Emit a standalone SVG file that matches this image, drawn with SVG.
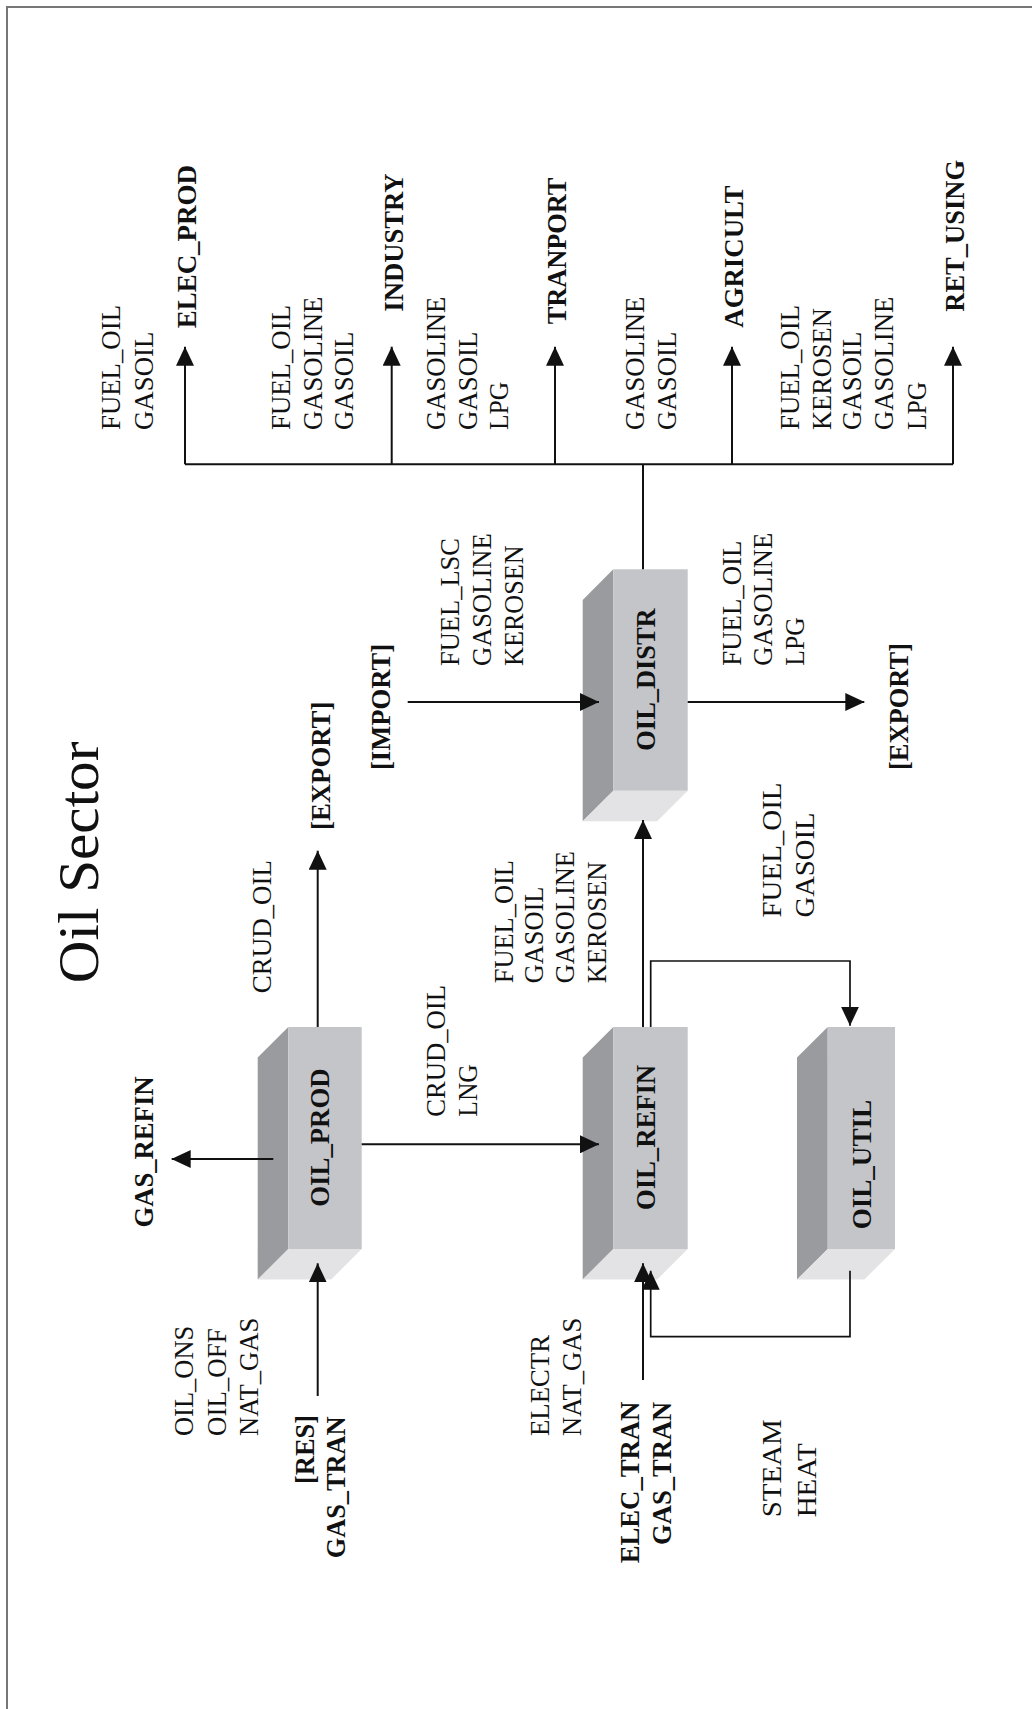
<svg xmlns="http://www.w3.org/2000/svg" width="1032" height="1709" viewBox="0 0 1032 1709">
<style>
text{font-family:"Liberation Serif","Times New Roman",serif;font-size:27px;fill:#111}
.b{font-weight:bold}
.title{font-size:58px}
.front{fill:#c4c5c8}
.side{fill:#999b9f}
.bot{fill:#e3e3e5}
.ln{fill:none;stroke:#111;stroke-width:2}
.lt{fill:none;stroke:#111;stroke-width:1.7}
.border{stroke:#777;stroke-width:2;fill:none}
</style>
<defs>
<marker id="ah" viewBox="0 0 19 18" refX="19" refY="9" markerWidth="19" markerHeight="18" orient="auto" markerUnits="userSpaceOnUse">
<path d="M0,0 L19,9 L0,18 z" fill="#111"/>
</marker>
</defs>
<rect width="1032" height="1709" fill="#fff"/>
<path class="border" d="M7,1709 V7 H1032"/>

<text class="title" transform="translate(97.5,983.3) rotate(-90)" textLength="241.7" lengthAdjust="spacingAndGlyphs">Oil Sector</text>

<g id="OIL_PROD">
<polygon class="side" points="257.7,1057.6 288.3,1027 288.3,1249 257.7,1279.6"/>
<polygon class="bot" points="288.3,1249 361.7,1249 331.1,1279.6 257.7,1279.6"/>
<rect class="front" x="288.3" y="1027" width="73.4" height="222"/>
<text class="b" transform="translate(329,1206.7) rotate(-90)" textLength="138.3" lengthAdjust="spacingAndGlyphs">OIL_PROD</text>
</g>
<g id="OIL_REFIN">
<polygon class="side" points="582.7,1057.6 613.3,1027 613.3,1249 582.7,1279.6"/>
<polygon class="bot" points="613.3,1249 687.7,1249 657.1,1279.6 582.7,1279.6"/>
<rect class="front" x="613.3" y="1027" width="74.4" height="222"/>
<text class="b" transform="translate(654.5,1210) rotate(-90)" textLength="145" lengthAdjust="spacingAndGlyphs">OIL_REFIN</text>
</g>
<g id="OIL_DISTR">
<polygon class="side" points="582.7,599.9 613.3,569.3 613.3,790.7 582.7,821.3"/>
<polygon class="bot" points="613.3,790.7 687.7,790.7 657.1,821.3 582.7,821.3"/>
<rect class="front" x="613.3" y="569.3" width="74.4" height="221.4"/>
<text class="b" transform="translate(654.5,750.7) rotate(-90)" textLength="142.4" lengthAdjust="spacingAndGlyphs">OIL_DISTR</text>
</g>
<g id="OIL_UTIL">
<polygon class="side" points="797,1057.6 827.7,1027 827.7,1249 797,1279.6"/>
<polygon class="bot" points="827.7,1249 895,1249 864.3,1279.6 797,1279.6"/>
<rect class="front" x="827.7" y="1027" width="67.3" height="222"/>
<text class="b" transform="translate(871,1229.3) rotate(-90)" textLength="129.3" lengthAdjust="spacingAndGlyphs">OIL_UTIL</text>
</g>

<g id="connectors">
<path class="ln" d="M185,464.3 H953"/>
<path class="ln" d="M643,569.3 V464.3"/>
<path class="ln" d="M185,464.3 V346.7" marker-end="url(#ah)"/>
<path class="ln" d="M391.7,464.3 V346.7" marker-end="url(#ah)"/>
<path class="ln" d="M555,464.3 V346.7" marker-end="url(#ah)"/>
<path class="ln" d="M732,464.3 V346.7" marker-end="url(#ah)"/>
<path class="ln" d="M953,464.3 V346.7" marker-end="url(#ah)"/>
<path class="ln" d="M317.7,1027 V850.7" marker-end="url(#ah)"/>
<path class="ln" d="M407.7,702 H599" marker-end="url(#ah)"/>
<path class="ln" d="M687.7,702 H864.3" marker-end="url(#ah)"/>
<path class="ln" d="M361.7,1144.3 H599" marker-end="url(#ah)"/>
<path class="ln" d="M273.3,1159 H171.7" marker-end="url(#ah)"/>
<path class="ln" d="M317.7,1396 V1263.3" marker-end="url(#ah)"/>
<path class="ln" d="M643,1027 V820" marker-end="url(#ah)"/>
<path class="lt" d="M650.7,1027 V961 H850 V1025.7" marker-end="url(#ah)"/>
<path class="ln" d="M643,1380 V1263.3" marker-end="url(#ah)"/>
<path class="lt" d="M850,1270.7 V1336.7 H650.7 V1270.7" marker-end="url(#ah)"/>
</g>

<g id="ELEC_PROD"><text class="b" transform="translate(196,328.3) rotate(-90)" textLength="163.3" lengthAdjust="spacingAndGlyphs">ELEC_PROD</text></g>
<g id="INDUSTRY"><text class="b" transform="translate(402.7,311.7) rotate(-90)" textLength="138.3" lengthAdjust="spacingAndGlyphs">INDUSTRY</text></g>
<g id="TRANPORT"><text class="b" transform="translate(566,324.3) rotate(-90)" textLength="146.7" lengthAdjust="spacingAndGlyphs">TRANPORT</text></g>
<g id="AGRICULT"><text class="b" transform="translate(742.5,327.7) rotate(-90)" textLength="142" lengthAdjust="spacingAndGlyphs">AGRICULT</text></g>
<g id="RET_USING"><text class="b" transform="translate(963.5,311.7) rotate(-90)" textLength="151.7" lengthAdjust="spacingAndGlyphs">RET_USING</text></g>
<g id="EXPORT_1"><text class="b" transform="translate(330,830) rotate(-90)" textLength="128.3" lengthAdjust="spacingAndGlyphs">[EXPORT]</text></g>
<g id="IMPORT"><text class="b" transform="translate(389.5,770) rotate(-90)" textLength="126" lengthAdjust="spacingAndGlyphs">[IMPORT]</text></g>
<g id="EXPORT_2"><text class="b" transform="translate(907.5,770) rotate(-90)" textLength="127" lengthAdjust="spacingAndGlyphs">[EXPORT]</text></g>
<g id="GAS_REFIN"><text class="b" transform="translate(153,1227.5) rotate(-90)" textLength="151" lengthAdjust="spacingAndGlyphs">GAS_REFIN</text></g>
<g id="RES_GAS_TRAN">
<text class="b" transform="translate(313.5,1484) rotate(-90)" textLength="69" lengthAdjust="spacingAndGlyphs">[RES]</text>
<text class="b" transform="translate(344.5,1558.3) rotate(-90)" textLength="141.7" lengthAdjust="spacingAndGlyphs">GAS_TRAN</text>
</g>
<g id="ELEC_GAS_TRAN">
<text class="b" transform="translate(638.5,1563.3) rotate(-90)" textLength="161.7" lengthAdjust="spacingAndGlyphs">ELEC_TRAN</text>
<text class="b" transform="translate(670.5,1545) rotate(-90)" textLength="143.3" lengthAdjust="spacingAndGlyphs">GAS_TRAN</text>
</g>

<g id="edge-labels">
<text transform="translate(119.5,430) rotate(-90)" textLength="125" lengthAdjust="spacingAndGlyphs">FUEL_OIL</text>
<text transform="translate(153,430) rotate(-90)" textLength="98.3" lengthAdjust="spacingAndGlyphs">GASOIL</text>

<text transform="translate(289.5,430) rotate(-90)" textLength="125" lengthAdjust="spacingAndGlyphs">FUEL_OIL</text>
<text transform="translate(321.5,430) rotate(-90)" textLength="133.3" lengthAdjust="spacingAndGlyphs">GASOLINE</text>
<text transform="translate(352.7,430) rotate(-90)" textLength="98.3" lengthAdjust="spacingAndGlyphs">GASOIL</text>

<text transform="translate(444.7,430) rotate(-90)" textLength="133.3" lengthAdjust="spacingAndGlyphs">GASOLINE</text>
<text transform="translate(476.7,430) rotate(-90)" textLength="98.3" lengthAdjust="spacingAndGlyphs">GASOIL</text>
<text transform="translate(508,430) rotate(-90)" textLength="48.3" lengthAdjust="spacingAndGlyphs">LPG</text>

<text transform="translate(644,430) rotate(-90)" textLength="133.3" lengthAdjust="spacingAndGlyphs">GASOLINE</text>
<text transform="translate(676.3,430) rotate(-90)" textLength="98.3" lengthAdjust="spacingAndGlyphs">GASOIL</text>

<text transform="translate(799,430) rotate(-90)" textLength="125" lengthAdjust="spacingAndGlyphs">FUEL_OIL</text>
<text transform="translate(831,430) rotate(-90)" textLength="121.7" lengthAdjust="spacingAndGlyphs">KEROSEN</text>
<text transform="translate(861,430) rotate(-90)" textLength="98.3" lengthAdjust="spacingAndGlyphs">GASOIL</text>
<text transform="translate(892.5,430) rotate(-90)" textLength="133.3" lengthAdjust="spacingAndGlyphs">GASOLINE</text>
<text transform="translate(926,430) rotate(-90)" textLength="48.3" lengthAdjust="spacingAndGlyphs">LPG</text>

<text transform="translate(271,993.3) rotate(-90)" textLength="133.3" lengthAdjust="spacingAndGlyphs">CRUD_OIL</text>

<text transform="translate(459,666) rotate(-90)" textLength="128" lengthAdjust="spacingAndGlyphs">FUEL_LSC</text>
<text transform="translate(491,666) rotate(-90)" textLength="132.7" lengthAdjust="spacingAndGlyphs">GASOLINE</text>
<text transform="translate(523,666) rotate(-90)" textLength="120.7" lengthAdjust="spacingAndGlyphs">KEROSEN</text>

<text transform="translate(740.5,665.7) rotate(-90)" textLength="125" lengthAdjust="spacingAndGlyphs">FUEL_OIL</text>
<text transform="translate(772,665.7) rotate(-90)" textLength="133" lengthAdjust="spacingAndGlyphs">GASOLINE</text>
<text transform="translate(804,665.7) rotate(-90)" textLength="48.3" lengthAdjust="spacingAndGlyphs">LPG</text>

<text transform="translate(780.5,917.5) rotate(-90)" textLength="135" lengthAdjust="spacingAndGlyphs">FUEL_OIL</text>
<text transform="translate(813.5,917.5) rotate(-90)" textLength="105" lengthAdjust="spacingAndGlyphs">GASOIL</text>

<text transform="translate(512.5,983.3) rotate(-90)" textLength="123.3" lengthAdjust="spacingAndGlyphs">FUEL_OIL</text>
<text transform="translate(542.5,983.3) rotate(-90)" textLength="96.7" lengthAdjust="spacingAndGlyphs">GASOIL</text>
<text transform="translate(574,983.3) rotate(-90)" textLength="132.3" lengthAdjust="spacingAndGlyphs">GASOLINE</text>
<text transform="translate(606,983.3) rotate(-90)" textLength="121.7" lengthAdjust="spacingAndGlyphs">KEROSEN</text>

<text transform="translate(444.5,1116.7) rotate(-90)" textLength="131.7" lengthAdjust="spacingAndGlyphs">CRUD_OIL</text>
<text transform="translate(477,1116.7) rotate(-90)" textLength="52.5" lengthAdjust="spacingAndGlyphs">LNG</text>

<text transform="translate(193,1436) rotate(-90)" textLength="110.3" lengthAdjust="spacingAndGlyphs">OIL_ONS</text>
<text transform="translate(225.5,1436) rotate(-90)" textLength="107.7" lengthAdjust="spacingAndGlyphs">OIL_OFF</text>
<text transform="translate(258,1436) rotate(-90)" textLength="118.3" lengthAdjust="spacingAndGlyphs">NAT_GAS</text>

<text transform="translate(549,1436) rotate(-90)" textLength="101" lengthAdjust="spacingAndGlyphs">ELECTR</text>
<text transform="translate(581,1436) rotate(-90)" textLength="118.3" lengthAdjust="spacingAndGlyphs">NAT_GAS</text>

<text transform="translate(781,1517.3) rotate(-90)" textLength="98" lengthAdjust="spacingAndGlyphs">STEAM</text>
<text transform="translate(816,1517.3) rotate(-90)" textLength="74" lengthAdjust="spacingAndGlyphs">HEAT</text>
</g>
</svg>
